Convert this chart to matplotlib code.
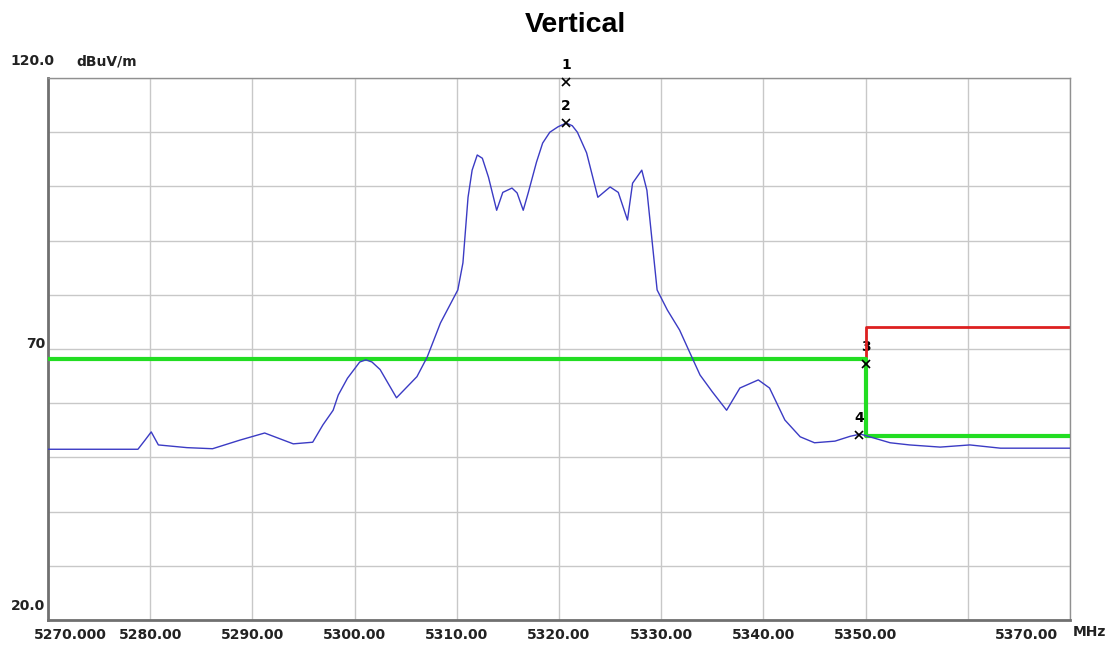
import matplotlib
matplotlib.use("Agg")
import matplotlib.pyplot as plt

# measured trace (MHz, dBuV/m)
freq = [5270.0, 5278.8, 5279.5, 5280.1, 5280.8, 5283.6, 5286.1, 5288.8, 5291.2,
        5294.0, 5295.9, 5296.9, 5297.9, 5298.4, 5299.3, 5300.5, 5301.1, 5301.7, 5302.5,
        5304.1, 5306.1, 5307.1, 5308.4, 5310.1, 5310.6, 5311.1, 5311.5, 5312.0,
        5312.5, 5313.1, 5313.9, 5314.5, 5315.4, 5315.9, 5316.5, 5317.0, 5317.8,
        5318.4, 5319.1, 5319.9, 5320.7, 5321.3, 5321.8, 5322.7, 5323.8, 5325.0,
        5325.8, 5326.7, 5327.2, 5328.1, 5328.6, 5329.1, 5329.6, 5330.6, 5331.8,
        5333.0, 5333.8, 5335.0, 5336.4, 5337.7, 5339.5, 5340.6, 5342.1, 5343.6,
        5345.0, 5347.0, 5348.5, 5349.5, 5350.4, 5352.4, 5354.3, 5357.3, 5360.2,
        5363.2, 5370.0]
level = [51.5, 51.5, 53.2, 54.7, 52.3, 51.8, 51.6, 53.2, 54.5,
         52.5, 52.8, 56.0, 58.7, 61.5, 64.6, 67.6, 68.0, 67.6, 66.2,
         61.0, 64.9, 68.5, 74.8, 80.9, 85.9, 98.0, 103.0, 105.8,
         105.2, 101.7, 95.6, 98.9, 99.7, 98.8, 95.6, 98.9, 104.5,
         108.0, 110.0, 111.0, 111.7, 111.2, 110.0, 106.2, 98.0, 99.9,
         98.9, 93.8, 100.6, 103.0, 99.3, 90.1, 80.9, 77.2, 73.5,
         68.5, 65.2, 62.1, 58.7, 62.8, 64.3, 62.8, 56.9, 53.8,
         52.7, 53.0, 53.9, 54.3, 53.8, 52.7, 52.3, 51.9, 52.3,
         51.7, 51.7]

# limit lines
green_f = [5270, 5350, 5350, 5370]
green_v = [68.2, 68.2, 54.0, 54.0]
red_f = [5350, 5350, 5370]
red_v = [68.2, 74.0, 74.0]

# markers
mk_id = ["1", "2", "3", "4"]
mk_f = [5320.7, 5320.7, 5350.0, 5349.4]
mk_v = [119.3, 111.7, 67.2, 54.2]

xticks = [5270, 5280, 5290, 5300, 5310, 5320, 5330, 5340, 5350, 5360, 5370]
xlabels = ["5270.000", "5280.00", "5290.00", "5300.00", "5310.00", "5320.00",
           "5330.00", "5340.00", "5350.00", "", "5370.00"]

plt.rcParams["font.family"] = ["DejaVu Sans"]

fig = plt.figure(figsize=(11.11, 6.45), dpi=100)
ax = fig.add_axes([0.0432, 0.0388, 0.9199, 0.8402])

ax.set_xlim(5270, 5370)
ax.set_ylim(20, 120)
ax.set_xticks(xticks)
ax.set_yticks(range(20, 121, 10))
ax.grid(True, color="#c8c8c8", lw=1)
ax.set_axisbelow(True)
ax.tick_params(length=0, labelbottom=False, labelleft=False)
for s in ["top", "right"]:
    ax.spines[s].set_color("#909090")
    ax.spines[s].set_linewidth(1)
for s in ["left", "bottom"]:
    ax.spines[s].set_color("#707070")
    ax.spines[s].set_linewidth(2)

ax.plot(green_f, green_v, color="#22dd22", lw=3, zorder=3)
ax.plot(red_f, red_v, color="#dd2020", lw=2, zorder=2.5)
ax.plot(freq, level, color="#3b3bc4", lw=1, zorder=4)

ax.plot(mk_f, mk_v, "x", color="black", ms=6, mew=1.2, zorder=5, clip_on=False)
for m, f, v in zip(mk_id, mk_f, mk_v):
    # label 3 sits under the red limit step
    z = 2 if m == "3" else 5
    ax.annotate(m, (f, v), xytext=(0, 7), textcoords="offset points",
                ha="center", va="bottom", fontsize=10, fontweight="bold",
                color="black", zorder=z, annotation_clip=False)

lab = dict(fontsize=10, fontweight="bold", color="#222222")
for t, s in zip(xticks, xlabels):
    if not s:
        continue
    if t == 5270:
        ax.annotate(s, (t, 20), xytext=(-10, -6), textcoords="offset points",
                    ha="left", va="top", annotation_clip=False, **lab)
    elif t == 5370:
        ax.annotate(s, (t, 20), xytext=(-9, -6), textcoords="offset points",
                    ha="right", va="top", annotation_clip=False, **lab)
    else:
        ax.annotate(s, (t, 20), xytext=(0, -6), textcoords="offset points",
                    ha="center", va="top", annotation_clip=False, **lab)
fig.text(0.9955, 0.020, "MHz", ha="right", va="center", **lab)

fig.text(0.049, 0.905, "120.0", ha="right", va="center", **lab)
fig.text(0.069, 0.905, "dBuV/m", ha="left", va="center", **lab)
fig.text(0.041, 0.467, "70", ha="right", va="center", **lab)
fig.text(0.041, 0.061, "20.0", ha="right", va="center", **lab)

fig.suptitle("Vertical", x=0.5176, y=0.982, fontsize=20.5, fontweight="bold",
             family="Liberation Sans")

fig.savefig("out.png", dpi=100, facecolor="white")
